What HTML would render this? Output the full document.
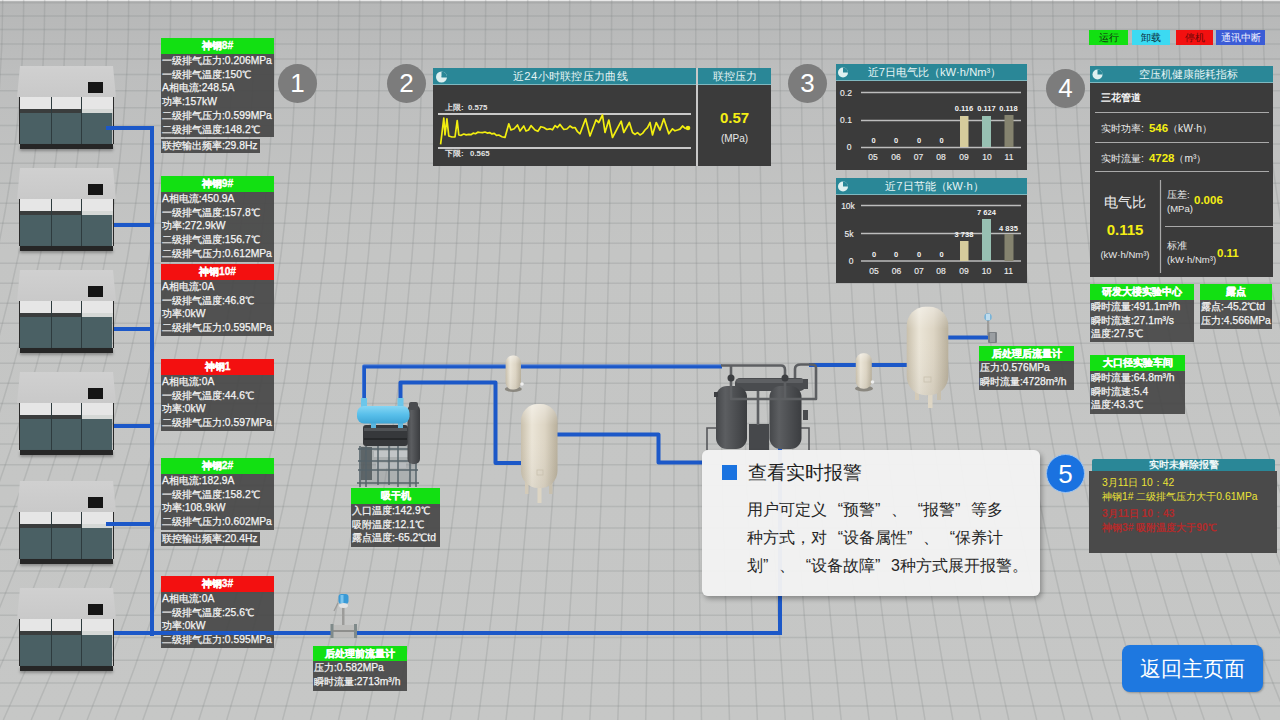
<!DOCTYPE html>
<html><head><meta charset="utf-8">
<style>
*{margin:0;padding:0;box-sizing:border-box}
html,body{width:1280px;height:720px;overflow:hidden}
body{position:relative;font-family:"Liberation Sans",sans-serif;background:#c6c7c7;color:#fff}
.bg{position:absolute;left:0;top:0;width:1280px;height:720px;
background:
repeating-linear-gradient(0deg,rgba(120,120,120,.18) 0 1px,transparent 1px 22.5px),
repeating-linear-gradient(90deg,rgba(120,120,120,.14) 0 1px,transparent 1px 22px),
linear-gradient(180deg,#c3c4c4,#c9caca 60%,#c6c7c7)}
.a{position:absolute}
/* compressor */
.comp{position:absolute;left:17px;width:100px;height:83px}
.comp .top{position:absolute;left:0;top:0;width:99px;height:31px;background:linear-gradient(180deg,#d0d0d0,#c9c9c9);clip-path:polygon(3px 0,96px 0,99px 100%,0 100%)}
.comp .scr{position:absolute;left:71px;top:16px;width:15px;height:11px;background:#151515}
.comp .band{position:absolute;left:3px;top:31px;width:93px;height:12px;background:#e6e6e6}
.comp .dl{position:absolute;left:3px;top:43px;width:62px;height:4px;background:#3a3d3d}
.comp .gs{position:absolute;left:65px;top:43px;width:31px;height:4px;background:#d5d8d6}
.comp .teal{position:absolute;left:3px;top:47px;width:92px;height:31px;background:#4a6064}
.comp .sep1{position:absolute;left:34px;top:31px;width:1px;height:47px;background:#2e3b3e}
.comp .sep2{position:absolute;left:64px;top:31px;width:1px;height:47px;background:#2e3b3e}
.comp .side{position:absolute;left:2px;top:31px;width:1px;height:47px;background:#2a2a2a}
.comp .side2{position:absolute;left:96px;top:31px;width:1px;height:47px;background:#2a2a2a}
.comp .base{position:absolute;left:3px;top:78px;width:93px;height:5px;background:#262626;box-shadow:0 2px 3px rgba(0,0,0,.3)}
/* pipes */
.pipe{position:absolute;background:#1c58c8}
/* info panel */
.ip{position:absolute;font-size:10.3px;line-height:13.7px;color:#f4f4f4;white-space:nowrap;font-weight:500}
.ip .h{height:16px;line-height:16px;text-align:center;font-weight:bold;font-size:10.3px;color:#fff;-webkit-text-stroke:.35px #fff}
.ip .g{background:#12e012}
.ip .r{background:#f31010}
.ip .b{background:rgba(70,70,70,.92);padding-left:1px;-webkit-text-stroke:.25px #f4f4f4}
.ip .x{background:rgba(70,70,70,.92);display:inline-block;margin-top:2px;padding-left:1px;padding-right:2px;-webkit-text-stroke:.25px #f4f4f4}
.num{position:absolute;width:39px;height:39px;border-radius:50%;background:#7c7c7c;color:#fff;font-size:26px;line-height:39px;text-align:center}
.cardtxt q{quotes:none;display:inline-block;width:16px}.cardtxt q.o{text-align:right}.cardtxt q.c{text-align:left}
</style></head><body>
<!--BG--><svg class="a" style="left:0;top:0" width="1280" height="720" viewBox="0 0 1280 720"><defs><linearGradient id="bgg" x1="0" y1="0" x2="0" y2="1"><stop offset="0" stop-color="#b6b7b7"/><stop offset=".1" stop-color="#bdbebe"/><stop offset=".35" stop-color="#c4c5c4"/><stop offset="1" stop-color="#c6c7c6"/></linearGradient></defs><rect width="1280" height="720" fill="url(#bgg)"/><line x1="0" y1="0.5" x2="1280" y2="0.5" stroke="#e8e8e8" stroke-width="1"/><g fill="none" stroke="#7d7e7e" stroke-opacity=".22" stroke-width="1.5"><path d="M0 706.0H1280"/><path d="M0 683.0H1280"/><path d="M0 660.2H1280"/><path d="M0 637.6H1280"/><path d="M0 615.2H1280"/><path d="M0 593.0H1280"/><path d="M0 571.1H1280"/><path d="M0 549.4H1280"/><path d="M0 527.9H1280"/><path d="M0 506.6H1280"/><path d="M0 485.6H1280"/><path d="M0 464.7H1280"/><path d="M0 444.1H1280"/><path d="M0 423.6H1280"/><path d="M0 403.4H1280"/><path d="M0 383.3H1280"/><path d="M0 363.3H1280"/><path d="M0 343.3H1280"/><path d="M0 323.3H1280"/><path d="M0 303.3H1280"/><path d="M0 283.3H1280"/><path d="M0 263.3H1280"/><path d="M0 243.3H1280"/><path d="M0 223.3H1280"/><path d="M0 203.3H1280"/><path d="M0 183.3H1280"/><path d="M0 163.3H1280"/><path d="M0 144.0H1280"/><path d="M0 125.5H1280"/><path d="M0 107.8H1280"/><path d="M0 90.8H1280"/><path d="M0 74.5H1280"/><path d="M0 58.9H1280"/><path d="M0 44.0H1280"/><path d="M0 29.6H1280"/><path d="M0 15.9H1280"/><path d="M0 2.7H1280"/><path d="M2.7 0Q2.7 360 -220.1 720"/><path d="M23.7 0Q23.7 360 -192.2 720"/><path d="M44.7 0Q44.7 360 -164.3 720"/><path d="M65.7 0Q65.7 360 -136.4 720"/><path d="M86.7 0Q86.7 360 -108.4 720"/><path d="M107.7 0Q107.7 360 -80.5 720"/><path d="M128.7 0Q128.7 360 -52.6 720"/><path d="M149.7 0Q149.7 360 -24.6 720"/><path d="M170.7 0Q170.7 360 3.3 720"/><path d="M191.7 0Q191.7 360 31.2 720"/><path d="M212.7 0Q212.7 360 59.2 720"/><path d="M233.7 0Q233.7 360 87.1 720"/><path d="M254.7 0Q254.7 360 115.0 720"/><path d="M275.7 0Q275.7 360 142.9 720"/><path d="M296.7 0Q296.7 360 170.9 720"/><path d="M317.7 0Q317.7 360 198.8 720"/><path d="M338.7 0Q338.7 360 226.7 720"/><path d="M359.7 0Q359.7 360 254.7 720"/><path d="M380.7 0Q380.7 360 282.6 720"/><path d="M401.7 0Q401.7 360 310.5 720"/><path d="M422.7 0Q422.7 360 338.5 720"/><path d="M443.7 0Q443.7 360 366.4 720"/><path d="M464.7 0Q464.7 360 394.3 720"/><path d="M485.7 0Q485.7 360 422.2 720"/><path d="M506.7 0Q506.7 360 450.2 720"/><path d="M527.7 0Q527.7 360 478.1 720"/><path d="M548.7 0Q548.7 360 506.0 720"/><path d="M569.7 0Q569.7 360 534.0 720"/><path d="M590.7 0Q590.7 360 561.9 720"/><path d="M611.7 0Q611.7 360 589.8 720"/><path d="M632.7 0Q632.7 360 617.8 720"/><path d="M653.7 0Q653.7 360 645.7 720"/><path d="M674.7 0Q674.7 360 673.6 720"/><path d="M695.7 0Q695.7 360 701.5 720"/><path d="M716.7 0Q716.7 360 729.5 720"/><path d="M737.7 0Q737.7 360 757.4 720"/><path d="M758.7 0Q758.7 360 785.3 720"/><path d="M779.7 0Q779.7 360 813.3 720"/><path d="M800.7 0Q800.7 360 841.2 720"/><path d="M821.7 0Q821.7 360 869.1 720"/><path d="M842.7 0Q842.7 360 897.1 720"/><path d="M863.7 0Q863.7 360 925.0 720"/><path d="M884.7 0Q884.7 360 952.9 720"/><path d="M905.7 0Q905.7 360 980.8 720"/><path d="M926.7 0Q926.7 360 1008.8 720"/><path d="M947.7 0Q947.7 360 1036.7 720"/><path d="M968.7 0Q968.7 360 1064.6 720"/><path d="M989.7 0Q989.7 360 1092.6 720"/><path d="M1010.7 0Q1010.7 360 1120.5 720"/><path d="M1031.7 0Q1031.7 360 1148.4 720"/><path d="M1052.7 0Q1052.7 360 1176.4 720"/><path d="M1073.7 0Q1073.7 360 1204.3 720"/><path d="M1094.7 0Q1094.7 360 1232.2 720"/><path d="M1115.7 0Q1115.7 360 1260.1 720"/><path d="M1136.7 0Q1136.7 360 1288.1 720"/><path d="M1157.7 0Q1157.7 360 1316.0 720"/><path d="M1178.7 0Q1178.7 360 1343.9 720"/><path d="M1199.7 0Q1199.7 360 1371.9 720"/><path d="M1220.7 0Q1220.7 360 1399.8 720"/><path d="M1241.7 0Q1241.7 360 1427.7 720"/><path d="M1262.7 0Q1262.7 360 1455.7 720"/><path d="M1283.7 0Q1283.7 360 1483.6 720"/></g></svg><!--/BG-->

<!-- compressors -->
<div class="comp" style="top:66px"><div class="top"></div><div class="scr"></div><div class="band"></div><div class="dl"></div><div class="gs"></div><div class="teal"></div><div class="sep1"></div><div class="sep2"></div><div class="side"></div><div class="side2"></div><div class="base"></div></div>
<div class="comp" style="top:168px"><div class="top"></div><div class="scr"></div><div class="band"></div><div class="dl"></div><div class="gs"></div><div class="teal"></div><div class="sep1"></div><div class="sep2"></div><div class="side"></div><div class="side2"></div><div class="base"></div></div>
<div class="comp" style="top:270px"><div class="top"></div><div class="scr"></div><div class="band"></div><div class="dl"></div><div class="gs"></div><div class="teal"></div><div class="sep1"></div><div class="sep2"></div><div class="side"></div><div class="side2"></div><div class="base"></div></div>
<div class="comp" style="top:372px"><div class="top"></div><div class="scr"></div><div class="band"></div><div class="dl"></div><div class="gs"></div><div class="teal"></div><div class="sep1"></div><div class="sep2"></div><div class="side"></div><div class="side2"></div><div class="base"></div></div>
<div class="comp" style="top:481px"><div class="top"></div><div class="scr"></div><div class="band"></div><div class="dl"></div><div class="gs"></div><div class="teal"></div><div class="sep1"></div><div class="sep2"></div><div class="side"></div><div class="side2"></div><div class="base"></div></div>
<div class="comp" style="top:588px"><div class="top"></div><div class="scr"></div><div class="band"></div><div class="dl"></div><div class="gs"></div><div class="teal"></div><div class="sep1"></div><div class="sep2"></div><div class="side"></div><div class="side2"></div><div class="base"></div></div>

<!-- left pipes -->
<div class="pipe" style="left:150px;top:126px;width:4px;height:510px"></div>
<div class="pipe" style="left:106px;top:126px;width:46px;height:4px"></div>
<div class="pipe" style="left:114px;top:223px;width:38px;height:4px"></div>
<div class="pipe" style="left:114px;top:327px;width:38px;height:4px"></div>
<div class="pipe" style="left:114px;top:424px;width:38px;height:4px"></div>
<div class="pipe" style="left:106px;top:522px;width:46px;height:4px"></div>

<!-- left info panels -->
<div class="ip" style="left:161px;top:38px;width:113px">
<div class="h g">神钢8#</div>
<div class="b" style="height:83px">一级排气压力:0.206MPa<br>一级排气温度:150℃<br>A相电流:248.5A<br>功率:157kW<br>二级排气压力:0.599MPa<br>二级排气温度:148.2℃</div>
<div class="x">联控输出频率:29.8Hz</div>
</div>

<div class="ip" style="left:161px;top:176px;width:113px">
<div class="h g">神钢9#</div>
<div class="b" style="height:70px">A相电流:450.9A<br>一级排气温度:157.8℃<br>功率:272.9kW<br>二级排气温度:156.7℃<br>二级排气压力:0.612MPa</div>
</div>

<div class="ip" style="left:161px;top:264px;width:113px">
<div class="h r">神钢10#</div>
<div class="b" style="height:56px">A相电流:0A<br>一级排气温度:46.8℃<br>功率:0kW<br>二级排气压力:0.595MPa</div>
</div>

<div class="ip" style="left:161px;top:359px;width:113px">
<div class="h r">神钢1</div>
<div class="b" style="height:56px">A相电流:0A<br>一级排气温度:44.6℃<br>功率:0kW<br>二级排气压力:0.597MPa</div>
</div>

<div class="ip" style="left:161px;top:458px;width:113px">
<div class="h g">神钢2#</div>
<div class="b" style="height:56px">A相电流:182.9A<br>一级排气温度:158.2℃<br>功率:108.9kW<br>二级排气压力:0.602MPa</div>
<div class="x">联控输出频率:20.4Hz</div>
</div>

<div class="ip" style="left:161px;top:576px;width:113px">
<div class="h r">神钢3#</div>
<div class="b" style="height:56px">A相电流:0A<br>一级排气温度:25.6℃<br>功率:0kW<br>二级排气压力:0.595MPa</div>
</div>

<!-- bottom pipe over panel -->
<div class="pipe" style="left:114px;top:631px;width:668px;height:4px"></div>
<div class="pipe" style="left:778px;top:440px;width:4px;height:195px"></div>

<!-- numbers -->
<div class="num" style="left:278px;top:64px">1</div>
<div class="num" style="left:387px;top:64px">2</div>
<div class="num" style="left:788px;top:64px">3</div>
<div class="num" style="left:1046px;top:69px">4</div>
<div class="num" style="left:1046px;top:454px;background:#1a72e0;border:1px solid #9ec4f0">5</div>


<!-- chart 2: pressure curve -->
<div class="a" style="left:433px;top:68px;width:338px;height:98px;background:#3b3b3b"></div>
<div class="a" style="left:433px;top:68px;width:263px;height:17px;background:#2a8797;border-bottom:1px solid #7fb8c0"></div>
<div class="a" style="left:698px;top:68px;width:73px;height:17px;background:#2a8797;border-bottom:1px solid #7fb8c0"></div>
<div class="a" style="left:696px;top:68px;width:2px;height:98px;background:#c8c8c8"></div>
<div class="a ttl" style="left:439px;top:68px;width:263px;height:17px;line-height:17px;text-align:center;font-size:11.3px;letter-spacing:.3px;font-weight:500;color:#e6f4f4">近24小时联控压力曲线</div>
<div class="a ttl" style="left:698px;top:68px;width:73px;height:17px;line-height:17px;text-align:center;font-size:11.3px;font-weight:500;color:#e6f4f4">联控压力</div>
<svg class="a" style="left:433px;top:68px" width="263" height="98" viewBox="433 68 263 98">
<circle cx="441.5" cy="77" r="5.5" fill="#dff0f0"/>
<path d="M441.5 77 L441.5 71.5 A5.5 5.5 0 0 1 447 77 Z" fill="#2a8797"/>
<path d="M441.5 77 L447 77" stroke="#2a8797" stroke-width="1"/>
<line x1="438" y1="114" x2="691" y2="114" stroke="#c9c9c9" stroke-width="2"/>
<line x1="438" y1="148" x2="691" y2="148" stroke="#c9c9c9" stroke-width="2"/>
<polyline fill="none" stroke="#f2ee10" stroke-width="1.7" stroke-linejoin="round" points="440.6,144.4 443.8,118.0 445.0,135.0 446.9,118.8 448.8,136.0 451.9,137.0 455.0,137.0 457.2,120.6 458.8,135.0 461.2,135.3 463.8,134.0 466.2,134.9 468.8,134.4 471.0,134.7 473.2,133.1 475.5,133.7 477.8,132.2 480.0,132.5 482.5,132.6 485.0,132.0 487.3,133.1 489.6,132.6 491.9,133.9 494.2,133.4 496.5,135.3 498.8,135.0 501.9,136.7 505.0,137.5 508.8,123.8 511.0,130.0 514.2,128.7 517.5,125.0 520.0,131.0 523.8,126.0 526.0,131.0 528.5,130.0 531.0,125.6 535.0,130.0 537.9,131.3 540.8,126.7 543.8,127.5 546.9,129.5 550.0,128.8 552.5,129.8 555.0,125.6 557.5,127.5 560.0,124.4 563.8,129.4 566.9,129.0 570.0,126.0 572.5,127.8 575.0,127.5 577.5,131.7 580.0,133.8 585.6,118.8 590.0,136.0 596.0,120.0 598.8,122.5 602.5,115.0 605.0,132.5 608.8,120.0 612.5,137.5 621.2,121.2 623.8,132.5 629.4,122.5 632.5,132.5 635.0,134.4 637.5,132.6 640.0,135.0 642.5,133.4 645.0,130.0 647.5,127.6 650.0,122.5 652.5,135.0 656.2,122.5 660.0,130.0 663.8,118.8 668.8,133.8 672.5,128.8 675.0,130.8 677.5,130.0 680.0,129.1 682.5,126.0 685.2,128.3 688.0,128.0"/>
<circle cx="688" cy="128" r="2.3" fill="#f2ee10"/>
</svg>
<div class="a" style="left:445px;top:103px;font-size:7.8px;line-height:10px;color:#e4e4e4;font-weight:bold;white-space:nowrap">上限:&nbsp;&nbsp;0.575</div>
<div class="a" style="left:445px;top:149px;font-size:7.8px;line-height:10px;color:#e4e4e4;font-weight:bold;white-space:nowrap">下限:&nbsp;&nbsp;&nbsp;0.565</div>
<div class="a" style="left:698px;top:109px;width:73px;text-align:center;font-size:15px;line-height:18px;font-weight:bold;color:#f4ee14">0.57</div>
<div class="a" style="left:698px;top:132px;width:73px;text-align:center;font-size:10px;line-height:14px;color:#e8e8e8">(MPa)</div>


<div class="a" style="left:836px;top:64px;width:191px;height:106px;background:#3b3b3b"></div>
<div class="a" style="left:836px;top:64px;width:191px;height:17px;background:#2a8797;border-bottom:1px solid #7fb8c0"></div>
<div class="a" style="left:836px;top:64px;width:191px;height:17px;line-height:17px;text-align:center;font-size:11.2px;font-weight:500;color:#e6f4f4;white-space:nowrap;padding-left:6px">近7日电气比（kW·h/Nm³）</div>

<div class="a" style="left:836px;top:178px;width:191px;height:105px;background:#3b3b3b"></div>
<div class="a" style="left:836px;top:178px;width:191px;height:17px;background:#2a8797;border-bottom:1px solid #7fb8c0"></div>
<div class="a" style="left:836px;top:178px;width:191px;height:17px;line-height:17px;text-align:center;font-size:11.2px;font-weight:500;color:#e6f4f4;white-space:nowrap;padding-left:6px">近7日节能（kW·h）</div>

<svg class="a" style="left:836px;top:64px" width="191" height="220" viewBox="836 64 191 220">
<g fill="#dff0f0"><circle cx="843" cy="72.5" r="5"/></g>
<path d="M843 72.5 L843 67.5 A5 5 0 0 1 848 72.5 Z" fill="#2a8797"/>
<g fill="#dff0f0"><circle cx="843" cy="186.5" r="5"/></g>
<path d="M843 186.5 L843 181.5 A5 5 0 0 1 848 186.5 Z" fill="#2a8797"/>
<g stroke="#bdbdbd" stroke-width="1.3">
<line x1="861" y1="92.5" x2="1021" y2="92.5"/>
<line x1="861" y1="120.5" x2="1021" y2="120.5"/>
<line x1="861" y1="147.5" x2="1021" y2="147.5"/>
<line x1="861" y1="205.5" x2="1021" y2="205.5"/>
<line x1="861" y1="233.5" x2="1021" y2="233.5"/>
<line x1="861" y1="261" x2="1021" y2="261"/>
</g>
<rect x="960" y="116" width="8.5" height="31" fill="#d6cc9c"/>
<rect x="982" y="116" width="9" height="31" fill="#97c0b2"/>
<rect x="1004.5" y="115" width="9" height="32" fill="#85836f"/>
<rect x="960" y="241" width="8.5" height="20" fill="#d6cc9c"/>
<rect x="982" y="219" width="9" height="42" fill="#97c0b2"/>
<rect x="1004.5" y="234" width="9" height="27" fill="#85836f"/>
<g font-family="Liberation Sans, sans-serif" font-size="8.5" fill="#ececec" stroke="#ececec" stroke-width=".15" text-anchor="middle">
<text x="846" y="95.5">0.2</text><text x="846" y="123">0.1</text><text x="849" y="150">0</text>
<text x="873" y="160">05</text><text x="896" y="160">06</text><text x="918.5" y="160">07</text><text x="941" y="160">08</text><text x="964" y="160">09</text><text x="987" y="160">10</text><text x="1009" y="160">11</text>
<text x="848" y="209">10k</text><text x="849" y="236.5">5k</text><text x="851" y="264">0</text>
<text x="874" y="274">05</text><text x="896.5" y="274">06</text><text x="919" y="274">07</text><text x="941" y="274">08</text><text x="964" y="274">09</text><text x="986.5" y="274">10</text><text x="1008.5" y="274">11</text>
</g>
<g font-family="Liberation Sans, sans-serif" font-size="7.5" font-weight="bold" fill="#f4f4f4" text-anchor="middle">
<text x="873.5" y="143">0</text><text x="896" y="143">0</text><text x="919" y="143">0</text><text x="941.5" y="143">0</text>
<text x="964" y="111">0.116</text><text x="986.5" y="111">0.117</text><text x="1008.5" y="111">0.118</text>
<text x="874" y="257">0</text><text x="896" y="257">0</text><text x="919" y="257">0</text><text x="941.5" y="257">0</text>
<text x="964" y="237">3 738</text><text x="986.5" y="215">7 624</text><text x="1008.5" y="230.5">4 835</text>
</g>
</svg>


<!-- legend -->
<div class="a" style="left:1089px;top:30px;width:39px;height:15px;background:#12e012;color:#103010;font-size:10.3px;line-height:15px;text-align:center">运行</div>
<div class="a" style="left:1132px;top:30px;width:38px;height:15px;background:#3cdaf2;color:#0c3040;font-size:10.3px;line-height:15px;text-align:center">卸载</div>
<div class="a" style="left:1176px;top:30px;width:37px;height:15px;background:#f31010;color:#6a0808;font-size:10.3px;line-height:15px;text-align:center">停机</div>
<div class="a" style="left:1216px;top:30px;width:49px;height:15px;background:#3b5cd6;color:#f0f0ff;font-size:10.3px;line-height:15px;text-align:center">通讯中断</div>

<!-- panel 4 health -->
<div class="a" style="left:1090px;top:66px;width:183px;height:211px;background:#3b3b3b"></div>
<div class="a" style="left:1090px;top:66px;width:183px;height:17px;background:#2a8797;border-bottom:1px solid #7fb8c0"></div>
<div class="a" style="left:1090px;top:66px;width:183px;height:17px;line-height:17px;padding-left:14px;text-align:center;font-size:11.1px;font-weight:500;color:#e6f4f4;white-space:nowrap">空压机健康能耗指标</div>
<svg class="a" style="left:1090px;top:66px" width="183" height="211" viewBox="1090 66 183 211">
<circle cx="1097.5" cy="74.5" r="5" fill="#dff0f0"/>
<path d="M1097.5 74.5 L1097.5 69.5 A5 5 0 0 1 1102.5 74.5 Z" fill="#2a8797"/>
<g stroke="#a9a9a9" stroke-width="1.2">
<line x1="1095" y1="112.5" x2="1269" y2="112.5"/>
<line x1="1095" y1="142.5" x2="1269" y2="142.5"/>
<line x1="1095" y1="171.5" x2="1269" y2="171.5"/>
<line x1="1165" y1="226.5" x2="1273" y2="226.5"/>
<line x1="1160.5" y1="180" x2="1160.5" y2="273"/>
</g>
</svg>
<div class="a" style="left:1101px;top:91px;font-size:10.3px;line-height:14px;font-weight:bold;color:#f4f4f4;white-space:nowrap">三花管道</div>
<div class="a" style="left:1101px;top:121px;font-size:10.3px;line-height:14px;font-weight:500;color:#ececec;white-space:nowrap">实时功率:<b style="color:#f4ee14;margin-left:5px;font-size:11.5px">546</b>（kW·h）</div>
<div class="a" style="left:1101px;top:151px;font-size:10.3px;line-height:14px;font-weight:500;color:#ececec;white-space:nowrap">实时流量:<b style="color:#f4ee14;margin-left:5px;font-size:11.5px">4728</b>（m³）</div>
<div class="a" style="left:1090px;top:193px;width:70px;text-align:center;font-size:14px;line-height:18px;font-weight:500;color:#f0f0f0">电气比</div>
<div class="a" style="left:1090px;top:221px;width:70px;text-align:center;font-size:15px;line-height:18px;font-weight:bold;color:#f4ee14">0.115</div>
<div class="a" style="left:1090px;top:248px;width:70px;text-align:center;font-size:9.5px;line-height:13px;font-weight:500;color:#e8e8e8">(kW·h/Nm³)</div>
<div class="a" style="left:1167px;top:188px;font-size:9.5px;line-height:13.5px;font-weight:500;color:#e8e8e8;white-space:nowrap">压差:<br>(MPa)</div>
<div class="a" style="left:1194px;top:193px;font-size:11.5px;line-height:15px;font-weight:bold;color:#f4ee14">0.006</div>
<div class="a" style="left:1167px;top:239px;font-size:9.5px;line-height:13.5px;font-weight:500;color:#e8e8e8;white-space:nowrap">标准<br>(kW·h/Nm³)</div>
<div class="a" style="left:1217px;top:246px;font-size:11.5px;line-height:15px;font-weight:bold;color:#f4ee14">0.11</div>

<!-- right info panels -->
<div class="ip" style="left:1090px;top:284px;width:104px">
<div class="h g">研发大楼实验中心</div>
<div class="b" style="height:42px">瞬时流量:491.1m³/h<br>瞬时流速:27.1m³/s<br>温度:27.5℃</div>
</div>
<div class="ip" style="left:1200px;top:284px;width:72px">
<div class="h g">露点</div>
<div class="b" style="height:29px">露点:-45.2℃td<br>压力:4.566MPa</div>
</div>
<div class="ip" style="left:979px;top:346px;width:95px">
<div class="h g" style="height:15px;line-height:15px">后处理后流量计</div>
<div class="b" style="height:29px">压力:0.576MPa<br>瞬时流量:4728m³/h</div>
</div>
<div class="ip" style="left:1090px;top:355px;width:95px">
<div class="h g">大口径实验车间</div>
<div class="b" style="height:43px">瞬时流量:64.8m³/h<br>瞬时流速:5.4<br>温度:43.3℃</div>
</div>
<div class="ip" style="left:351px;top:488px;width:89px">
<div class="h g">吸干机</div>
<div class="b" style="height:43px">入口温度:142.9℃<br>吸附温度:12.1℃<br>露点温度:-65.2℃td</div>
</div>
<div class="ip" style="left:313px;top:646px;width:94px">
<div class="h g" style="height:15px;line-height:15px">后处理前流量计</div>
<div class="b" style="height:30px">压力:0.582MPa<br>瞬时流量:2713m³/h</div>
</div>

<!-- alarm panel -->
<div class="a" style="left:1092px;top:459px;width:183px;height:13px;background:#2a8797;border-radius:2px 2px 0 0"></div>
<div class="a" style="left:1089px;top:471px;width:188px;height:82px;background:#4a4a4a"></div>
<div class="a" style="left:1092px;top:458px;width:183px;height:14px;line-height:14px;text-align:center;font-size:9.8px;font-weight:bold;color:#f0f8f8">实时未解除报警</div>
<div class="a" style="left:1102px;top:476px;font-size:10.3px;line-height:13.7px;color:#ece436;font-weight:500;white-space:nowrap">3月11日 10：42<br>神钢1# 二级排气压力大于0.61MPa</div>
<div class="a" style="left:1102px;top:507px;font-size:10.3px;line-height:13.7px;color:#c42626;white-space:nowrap;font-weight:bold;opacity:.85">3月11日 10：43<br>神钢3# 吸附温度大于90℃</div>

<!-- return button -->
<div class="a" style="left:1122px;top:645px;width:141px;height:47px;border-radius:8px;background:#1e78e0;box-shadow:1px 1px 2px rgba(0,0,0,.25);color:#fff;font-size:21px;line-height:47px;text-align:center">返回主页面</div>


<!-- middle pipes -->
<svg class="a" style="left:0;top:0" width="1280" height="720" viewBox="0 0 1280 720">
<defs>
<linearGradient id="tk" x1="0" x2="1" y1="0" y2="0">
<stop offset="0" stop-color="#c9c0ac"/><stop offset=".3" stop-color="#ebe5d7"/><stop offset=".65" stop-color="#ddd5c4"/><stop offset="1" stop-color="#b9b09c"/>
</linearGradient>
<linearGradient id="tkv" x1="0" x2="0" y1="0" y2="1">
<stop offset="0" stop-color="#fff" stop-opacity=".35"/><stop offset=".25" stop-color="#fff" stop-opacity="0"/><stop offset="1" stop-color="#000" stop-opacity=".05"/>
</linearGradient>
<linearGradient id="dk" x1="0" x2="1" y1="0" y2="0">
<stop offset="0" stop-color="#45474a"/><stop offset=".3" stop-color="#5c5e61"/><stop offset="1" stop-color="#3b3d40"/>
</linearGradient>
<linearGradient id="bl" x1="0" x2="0" y1="0" y2="1">
<stop offset="0" stop-color="#86d6f4"/><stop offset=".5" stop-color="#58bfea"/><stop offset="1" stop-color="#3ea6d6"/>
</linearGradient>
</defs>
<g fill="none" stroke="#1c58c8" stroke-width="4" stroke-linejoin="round">
<polyline points="364,400 364,366.5 506,366.5"/>
<polyline points="520,366.5 722,366.5"/>
<polyline points="400.5,400 400.5,382.5 495.5,382.5 495.5,463 522,463"/>
<polyline points="557,434.5 658.5,434.5 658.5,462.5 702,462.5"/>
<polyline points="809,365 857,365"/>
<polyline points="871,365 908,365"/>
<polyline points="948,337.5 992,337.5"/>
</g>
<g fill="none" stroke="#8fb4ec" stroke-opacity=".35" stroke-width="1">
<polyline points="362.5,400 362.5,365 506,365"/>
<polyline points="520,365 722,365"/>
</g>

<!-- dryer 吸干机 -->
<g>
<rect x="359" y="446" width="57" height="39" fill="#7d878b" opacity=".35"/>
<rect x="361" y="447" width="11" height="33" fill="#4a5256" opacity=".8"/>
<rect x="374" y="451" width="34" height="6" fill="#c4c8ca" opacity=".9"/>
<rect x="376" y="463" width="30" height="5" fill="#b8bdc0" opacity=".85"/>
<g stroke="#55636a" stroke-width="1.5" fill="none">
<path d="M360 446 L360 487 M366 446 L366 487 M378 446 L378 485 M389 446 L389 485 M398 446 L398 487 M410 446 L410 487 M416 452 L416 487"/>
<path d="M358 449 L418 449 M358 461 L418 461 M358 470 L418 470 M357 483 L419 483"/>
</g>
<rect x="363" y="425" width="45" height="21" rx="3" fill="#36383b"/>
<rect x="364" y="428" width="43" height="3" fill="#505356"/>
<rect x="364" y="438" width="43" height="2" fill="#26282a"/>
<rect x="407.5" y="405" width="12.5" height="59" rx="5" fill="url(#dk)"/>
<rect x="409" y="402" width="9" height="8" rx="2" fill="#4a4c4f"/>
<rect x="371" y="422" width="5" height="6" fill="#5cb6de"/>
<rect x="398" y="422" width="5" height="6" fill="#5cb6de"/>
<rect x="361" y="398" width="6" height="10" fill="#6cc6ea"/>
<rect x="397.5" y="398" width="6" height="10" fill="#6cc6ea"/>
<rect x="357" y="406" width="52.5" height="17.5" rx="7" fill="url(#bl)"/>
</g>

<!-- filter 1 -->
<ellipse cx="513.3" cy="389" rx="8.5" ry="3" fill="#8a877f"/>
<rect x="505.6" y="355.6" width="15.4" height="34" rx="7" fill="url(#tk)"/>
<rect x="505.6" y="355.6" width="15.4" height="34" rx="7" fill="url(#tkv)"/>
<circle cx="522" cy="384" r="1.8" fill="#eee"/>
<!-- tank 1 -->
<rect x="525" y="482" width="3.5" height="12" fill="#d3cab8"/><rect x="549" y="482" width="3.5" height="12" fill="#c7bfad"/><rect x="537.5" y="486" width="4" height="17" fill="#ddd5c4"/>
<rect x="521" y="404" width="36.5" height="84" rx="17" fill="url(#tk)"/>
<rect x="521" y="404" width="36.5" height="84" rx="17" fill="url(#tkv)"/>
<rect x="537" y="470" width="6" height="5" fill="none" stroke="#c9c1ae" stroke-width=".8"/>

<!-- filter 2 -->
<ellipse cx="864" cy="388.5" rx="9" ry="3" fill="#8a877f"/>
<rect x="855.8" y="353.3" width="16" height="35.5" rx="7.5" fill="url(#tk)"/>
<rect x="855.8" y="353.3" width="16" height="35.5" rx="7.5" fill="url(#tkv)"/>
<circle cx="872.5" cy="382" r="1.8" fill="#eee"/>
<!-- tank 2 -->
<rect x="915" y="388" width="4" height="12" fill="#d3cab8"/><rect x="937" y="388" width="4" height="12" fill="#c7bfad"/><rect x="928" y="392" width="4.5" height="16" fill="#ddd5c4"/>
<rect x="906.7" y="306.7" width="41.6" height="88.5" rx="19" fill="url(#tk)"/>
<rect x="906.7" y="306.7" width="41.6" height="88.5" rx="19" fill="url(#tkv)"/>
<rect x="924" y="377" width="7" height="5" fill="none" stroke="#c9c1ae" stroke-width=".8"/>

<!-- adsorption dryer -->
<g>
<g fill="none" stroke="#55575a" stroke-width="1.6">
<path d="M707 450 L707 428 L716 428 M809 450 L809 428 L801 428"/>
</g>
<rect x="749" y="424" width="20" height="26" fill="#46484b"/>
<rect x="735" y="378" width="70" height="13" rx="5" fill="#4a4c4f"/>
<rect x="736" y="379" width="68" height="4" rx="2" fill="#5e6063"/>
<rect x="716" y="386" width="31" height="63" rx="11" fill="url(#dk)"/>
<rect x="769.5" y="386" width="32" height="63" rx="11" fill="url(#dk)"/>
<g fill="none" stroke="#5d5f62" stroke-width="2.6" stroke-linejoin="round">
<path d="M721 365.5 L781 365.5 Q785 365.5 785 370 L785 399"/>
<path d="M731 365.5 L731 399 L816 399 L816 368 Q816 364.5 812 364.5 L801 364.5 Q795 364.5 795 369 L795 378"/>
<path d="M758 391 L758 425"/>
</g>
<circle cx="731" cy="378" r="3.5" fill="#3c3e41"/>
<circle cx="785" cy="378" r="3.5" fill="#3c3e41"/>
<rect x="803" y="379" width="5" height="10" fill="#4a4c4f"/>
<rect x="803" y="410" width="5" height="10" fill="#4a4c4f"/>
<rect x="714" y="392" width="4" height="5" fill="#3c3e41"/>
</g>

<!-- flow meter bottom -->
<rect x="332.5" y="625" width="22.5" height="12" rx="1.5" fill="#bdbdbb"/>
<rect x="333" y="630" width="22" height="2" fill="#8e8e8c"/>
<rect x="330.5" y="624" width="3" height="14" fill="#7f8a8a"/>
<rect x="354" y="624" width="3" height="14" fill="#7f8a8a"/>
<rect x="342" y="607" width="2.5" height="18" fill="#9c9c9a"/>
<path d="M338 603 L334 611" stroke="#9c9c9a" stroke-width="1.2"/>
<rect x="338.5" y="594" width="10" height="10" rx="3" fill="#3a9ad6"/>
<rect x="340.5" y="595" width="3" height="8" fill="#8cd0f4" opacity=".8"/>
<ellipse cx="343.5" cy="605.5" rx="4.5" ry="2.5" fill="#e4e4e4"/>
<!-- flow meter right -->
<rect x="987" y="320" width="2.2" height="15" fill="#9c9c9a"/>
<circle cx="988" cy="317" r="3.8" fill="#7ab4d8"/>
<rect x="986" y="314" width="4" height="6" fill="#cfe6f4" opacity=".8"/>
<rect x="988" y="332" width="9" height="11" rx="1" fill="#7c8084"/>
<rect x="990" y="333" width="5" height="9" fill="#9a9ea2"/>
</svg>

<!-- callout card -->
<div class="a" style="left:702px;top:450px;width:338px;height:146px;border-radius:6px;background:rgba(243,243,243,.96);box-shadow:2px 3px 5px rgba(0,0,0,.3)"></div>
<div class="a" style="left:722px;top:465px;width:15px;height:15px;background:#1a73e0"></div>
<div class="a" style="left:748px;top:461px;font-size:19px;line-height:24px;color:#1e1e1e;font-weight:300;white-space:nowrap">查看实时报警</div>
<div class="a cardtxt" style="left:747px;top:496px;font-size:16px;line-height:28px;color:#262626;font-weight:350;white-space:nowrap">用户可定义<q class="o">“</q>预警<q class="c">”</q>、<q class="o">“</q>报警<q class="c">”</q>等多<br>种方式，对<q class="o">“</q>设备属性<q class="c">”</q>、<q class="o">“</q>保养计<br>划<q class="c">”</q>、<q class="o">“</q>设备故障<q class="c">”</q>3种方式展开报警。</div>

</body></html>
